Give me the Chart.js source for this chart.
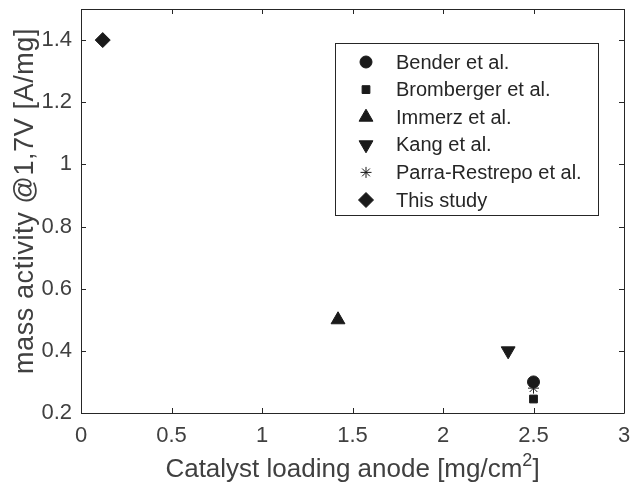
<!DOCTYPE html>
<html>
<head>
<meta charset="utf-8">
<script src="https://cdn.jsdelivr.net/npm/chart.js@4/dist/chart.umd.min.js"></script>
<style>
  body { margin: 0; background: #fff; }
  #wrap { width: 633px; height: 494px; }
</style>
</head>
<body>
<div id="wrap"><canvas id="massChart" width="633" height="494"></canvas></div>
<script>
// data
const studies = ['Bender et al.', 'Bromberger et al.', 'Immerz et al.', 'Kang et al.', 'Parra-Restrepo et al.', 'This study'];
const loadingAnode = [2.5, 2.5, 1.42, 2.36, 2.5, 0.12];     // mg/cm2
const massActivity = [0.30, 0.245, 0.50, 0.40, 0.28, 1.40]; // A/mg
const xTicks = [0, 0.5, 1, 1.5, 2, 2.5, 3];
const yTicks = [0.2, 0.4, 0.6, 0.8, 1, 1.2, 1.4];
const yTitle = 'mass activity @1,7V [A/mg]';

const FONT = '"Liberation Sans", Arial, Helvetica, sans-serif';
const AXIS_COLOR = '#262626';
const TEXT_COLOR = '#404040';
const MARK = '#1a1a1a';

// marker look per study (matlab-ish symbols)
const markers = [
  { style: 'circle', radius: 6, rotation: 0 },
  { style: 'rect', radius: 5.5, rotation: 0 },
  { style: 'triangle', radius: 8, rotation: 0 },
  { style: 'triangle', radius: 8, rotation: 180 },
  { style: 'star', radius: 5.5, rotation: 0 },
  { style: 'rectRot', radius: 7.5, rotation: 0 }
];

const datasets = studies.map((name, i) => ({
  label: name,
  data: [{ x: loadingAnode[i], y: massActivity[i] }],
  pointStyle: markers[i].style,
  pointRadius: markers[i].radius,
  pointRotation: markers[i].rotation,
  backgroundColor: MARK,
  borderColor: MARK,
  borderWidth: 1,
  order: studies.length - i
}));

// box around the axes with inward ticks, like the original figure
const axesBox = {
  id: 'axesBox',
  afterDatasetsDraw(chart) {
    const { ctx, chartArea: a, scales } = chart;
    const tl = 5;
    ctx.save();
    ctx.strokeStyle = AXIS_COLOR;
    ctx.lineWidth = 1;
    ctx.beginPath();
    ctx.rect(Math.round(a.left) + 0.5, Math.round(a.top) + 0.5,
      Math.round(a.right - a.left), Math.round(a.bottom - a.top));
    xTicks.forEach(v => {
      const px = Math.round(scales.x.getPixelForValue(v)) + 0.5;
      ctx.moveTo(px, a.bottom); ctx.lineTo(px, a.bottom - tl);
      ctx.moveTo(px, a.top); ctx.lineTo(px, a.top + tl);
    });
    yTicks.forEach(v => {
      const py = Math.round(scales.y.getPixelForValue(v)) + 0.5;
      ctx.moveTo(a.left, py); ctx.lineTo(a.left + tl, py);
      ctx.moveTo(a.right, py); ctx.lineTo(a.right - tl, py);
    });
    ctx.stroke();
    ctx.restore();
  }
};

// legend box in the upper right + axis titles (x has a superscript)
const boxLegend = {
  id: 'boxLegend',
  afterDraw(chart) {
    const { ctx, chartArea: a } = chart;
    const left = 335, top = 43, right = 598, bottom = 215;
    ctx.save();
    ctx.fillStyle = '#fff';
    ctx.fillRect(left, top, right - left, bottom - top);
    ctx.strokeStyle = AXIS_COLOR;
    ctx.lineWidth = 1;
    ctx.strokeRect(left + 0.5, top + 0.5, right - left, bottom - top);

    ctx.font = '20px ' + FONT;
    ctx.textBaseline = 'middle';
    ctx.textAlign = 'left';
    chart.data.datasets.forEach((ds, i) => {
      const y = 62 + i * 27.6;
      ctx.fillStyle = MARK;
      ctx.strokeStyle = MARK;
      ctx.lineWidth = 1;
      Chart.helpers.drawPoint(ctx, {
        pointStyle: ds.pointStyle,
        radius: ds.pointRadius,
        rotation: ds.pointRotation,
        borderWidth: 1
      }, 366, y);
      ctx.fillStyle = '#262626';
      ctx.fillText(ds.label, 396, y + 1);
    });

    // x axis title
    const main = 'Catalyst loading anode [mg/cm', sup = '2', tail = ']';
    ctx.fillStyle = TEXT_COLOR;
    ctx.textBaseline = 'alphabetic';
    ctx.font = '26px ' + FONT;
    const w1 = ctx.measureText(main).width;
    const w3 = ctx.measureText(tail).width;
    ctx.font = '18px ' + FONT;
    const w2 = ctx.measureText(sup).width;
    const cx = (a.left + a.right) / 2;
    let x = cx - (w1 + w2 + w3) / 2;
    const base = 477;
    ctx.font = '26px ' + FONT;
    ctx.fillText(main, x, base);
    x += w1;
    ctx.font = '18px ' + FONT;
    ctx.fillText(sup, x, base - 11);
    x += w2;
    ctx.font = '26px ' + FONT;
    ctx.fillText(tail, x, base);

    // y axis title (rotated)
    ctx.translate(33, 201);
    ctx.rotate(-Math.PI / 2);
    ctx.font = '27px ' + FONT;
    ctx.letterSpacing = '0.6px';
    ctx.textAlign = 'center';
    ctx.textBaseline = 'alphabetic';
    ctx.fillText(yTitle, 0, 0);
    ctx.restore();
  }
};

const fmt = v => String(Math.round(v * 10) / 10);

new Chart(document.getElementById('massChart'), {
  type: 'scatter',
  data: { datasets },
  options: {
    responsive: false,
    animation: false,
    layout: { padding: { top: 9, right: 6, left: 0, bottom: 0 } },
    plugins: {
      legend: { display: false },
      tooltip: { enabled: false }
    },
    scales: {
      x: {
        type: 'linear',
        min: 0,
        max: 3,
        afterBuildTicks: s => { s.ticks = xTicks.map(v => ({ value: v })); },
        afterFit: s => { s.height = 81; s.paddingLeft = 0; s.paddingRight = 0; },
        grid: { display: false, drawTicks: false },
        border: { display: false },
        ticks: {
          autoSkip: false,
          maxRotation: 0,
          padding: 10,
          color: TEXT_COLOR,
          font: { family: FONT, size: 22 },
          callback: fmt
        }
      },
      y: {
        min: 0.2,
        max: 1.5,
        afterBuildTicks: s => { s.ticks = yTicks.map(v => ({ value: v })); },
        afterFit: s => { s.width = 81; s.paddingTop = 0; s.paddingBottom = 0; },
        grid: { display: false, drawTicks: false },
        border: { display: false },
        ticks: {
          padding: 9,
          color: TEXT_COLOR,
          font: { family: FONT, size: 22 },
          callback: fmt
        }
      }
    }
  },
  plugins: [axesBox, boxLegend]
});
</script>
</body>
</html>
